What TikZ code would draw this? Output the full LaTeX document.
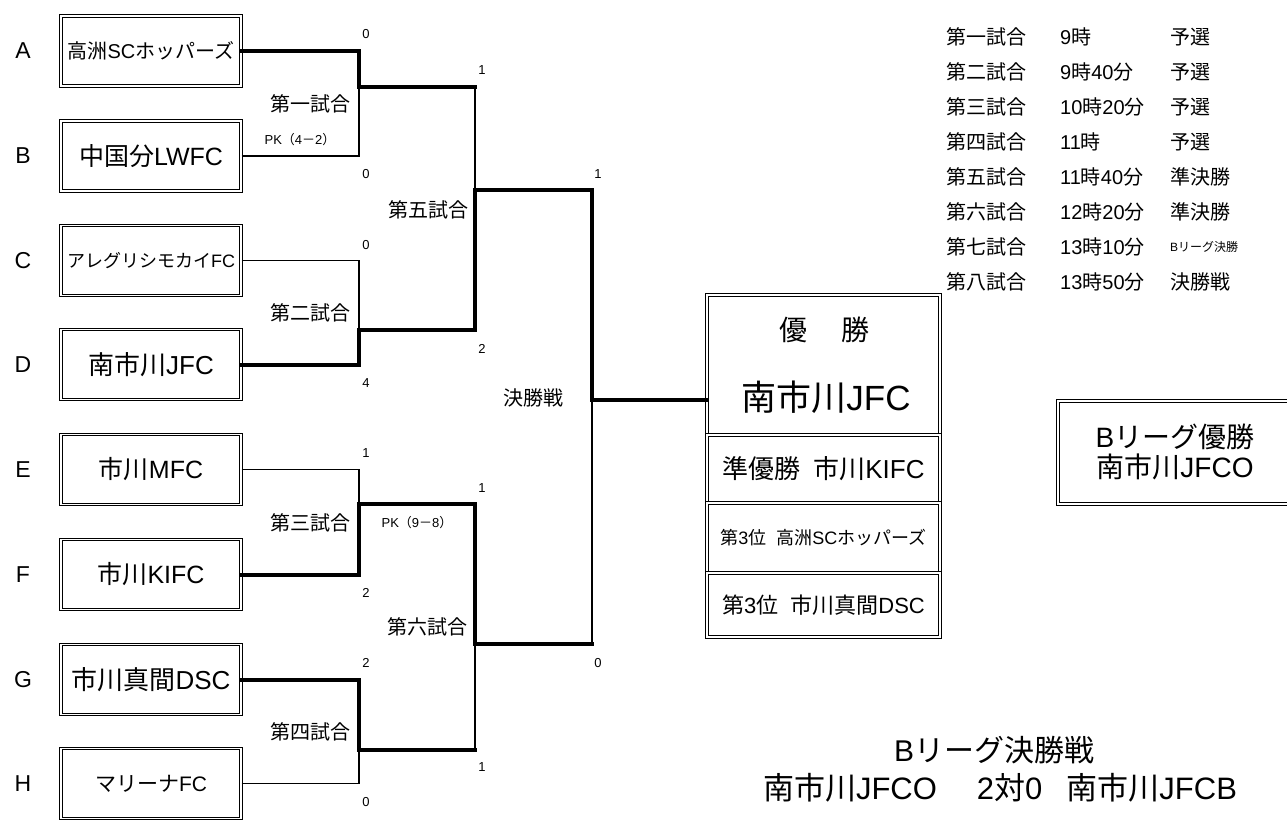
\documentclass[tikz,border=0pt]{standalone}
\usepackage{fontspec}
\setmainfont{Liberation Sans}
\newfontfamily\cjkf{Noto Sans CJK JP}
\XeTeXinterchartokenstate=1
\newXeTeXintercharclass\CJKcls
\newcount\cjkc
\def\cjkrange#1#2{\cjkc=#1\relax
  \loop\XeTeXcharclass\cjkc=\CJKcls\relax
  \ifnum\cjkc<#2\relax\advance\cjkc by 1\relax\repeat}
\cjkrange{"3000}{"30FF}
\cjkrange{"4E00}{"9FFF}
\cjkrange{"FF00}{"FFEF}
\XeTeXinterchartoks 0 \CJKcls = {\cjkf}
\XeTeXinterchartoks 4095 \CJKcls = {\cjkf}
\XeTeXinterchartoks \CJKcls 0 = {\rmfamily}
\XeTeXinterchartoks \CJKcls 4095 = {\rmfamily}
\newcommand\setfs[1]{\fontsize{#1pt}{#1pt}\selectfont}
\begin{document}
\begin{tikzpicture}[x=1pt,y=-1pt,
  dbox/.style={draw, double, double distance=1.6pt, line width=1.1pt, rectangle, inner sep=0pt, align=center},
  team/.style={dbox, minimum width=180pt, minimum height=70pt},
  win/.style={line width=4pt, line cap=rect, line join=miter},
  lose/.style={line width=1.3pt},
  sc/.style={font=\setfs{13}},
  mt/.style={font=\setfs{20}},
  lt/.style={font=\setfs{23}},
  sch/.style={font=\setfs{20}, anchor=west, inner sep=0pt},
]
\useasboundingbox (0,0) rectangle (1287,821);
% team boxes
\node[team, font=\setfs{20}] (A) at (151,51) {高洲SCホッパーズ};
\node[team, font=\setfs{25}] (B) at (151,156) {中国分LWFC};
\node[team, font=\setfs{18}] (C) at (151,260.5) {アレグリシモカイFC};
\node[team, font=\setfs{26}] (D) at (151,364.5) {南市川JFC};
\node[team, font=\setfs{25}] (E) at (151,469.5) {市川MFC};
\node[team, font=\setfs{25}] (F) at (151,574.5) {市川KIFC};
\node[team, font=\setfs{26}] (G) at (151,679.5) {市川真間DSC};
\node[team, font=\setfs{21}] (H) at (151,783.5) {マリーナFC};
% letters
\node[lt] (lA) at (23,51) {A};
\node[lt] (lB) at (23,156) {B};
\node[lt] (lC) at (23,260.5) {C};
\node[lt] (lD) at (23,364.5) {D};
\node[lt] (lE) at (23,469.5) {E};
\node[lt] (lF) at (23,574.5) {F};
\node[lt] (lG) at (23,679.5) {G};
\node[lt] (lH) at (23,783.5) {H};
% result boxes
\node[dbox, minimum width=233pt, minimum height=140pt] (W1) at (823.5,365) {};
\node[dbox, minimum width=233pt, minimum height=68pt, font=\setfs{26}] (W2) at (823.5,469) {準優勝\hspace{13pt}市川KIFC};
\node[dbox, minimum width=233pt, minimum height=70pt, font=\setfs{18}] (W3) at (823.5,538) {第3位\hspace{10pt}高洲SCホッパーズ};
\node[dbox, minimum width=233pt, minimum height=64pt, font=\setfs{22}] (W4) at (823.5,605) {第3位\hspace{12pt}市川真間DSC};
\node[font=\setfs{28}] (wt1) at (824,330) {優\hspace{34pt}勝};
\node[font=\setfs{35}] (wt2) at (826,397) {南市川JFC};
% B league box
\node[dbox, minimum width=244pt, minimum height=103pt] (BL) at (1180,452.5) {};
\node[font=\setfs{28}, align=center, inner sep=0pt] (BLt) at (1175,452) {Bリーグ優勝\\[2pt]南市川JFCO};
% junction coordinates
\coordinate (m1) at (359,87);
\coordinate (m1o) at (475,87);
\coordinate (m2) at (359,330);
\coordinate (m2o) at (475,330);
\coordinate (m3) at (359,504);
\coordinate (m3o) at (475,504);
\coordinate (m4) at (359,750);
\coordinate (m4o) at (475,750);
\coordinate (m5) at (475,190);
\coordinate (m5o) at (592,190);
\coordinate (m6) at (475,644);
\coordinate (m6o) at (592,644);
\coordinate (fin) at (592,400);
% losing lines
\draw[lose] (B.east) -| (m1);
\draw[lose] (C.east) -| (m2);
\draw[lose] (E.east) -| (m3);
\draw[lose] (H.east) -| (m4);
\draw[lose] (m1o) -- (m5);
\draw[lose] (m4o) -- (m6);
\draw[lose] (m6o) -- (fin);
% winning lines
\draw[win] (A.east) -| (m1) -- (m1o);
\draw[win] (D.east) -| (m2) -- (m2o) -- (m5) -- (m5o) -- (fin) -- (fin -| W1.west);
\draw[win] (F.east) -| (m3) -- (m3o) -- (m6) -- (m6o);
\draw[win] (G.east) -| (m4) -- (m4o);
% scores
\node[sc] (s1) at (366,34) {0};
\node[sc] (s2) at (482,70) {1};
\node[sc] (s3) at (366,174) {0};
\node[sc] (s4) at (366,245) {0};
\node[sc] (s5) at (366,383) {4};
\node[sc] (s6) at (482,349) {2};
\node[sc] (s7) at (598,174) {1};
\node[sc] (s8) at (366,453) {1};
\node[sc] (s9) at (482,488) {1};
\node[sc] (s10) at (366,593) {2};
\node[sc] (s11) at (366,663) {2};
\node[sc] (s12) at (598,663) {0};
\node[sc] (s13) at (482,767) {1};
\node[sc] (s14) at (366,802) {0};
% match labels
\node[mt] (g1) at (310,104) {第一試合};
\node[font=\setfs{13}] (pk1) at (300,140) {PK（4－2）};
\node[mt] (g5) at (428,210) {第五試合};
\node[mt] (g2) at (310,313) {第二試合};
\node[mt] (gf) at (533,398) {決勝戦};
\node[mt] (g3) at (310,523) {第三試合};
\node[font=\setfs{13}] (pk2) at (417,523) {PK（9－8）};
\node[mt] (g6) at (427,627) {第六試合};
\node[mt] (g4) at (310,732) {第四試合};
% schedule
\foreach \i/\a/\b/\c in {0/第一試合/9時/予選, 1/第二試合/9時40分/予選, 2/第三試合/10時20分/予選, 3/第四試合/11時/予選, 4/第五試合/11時40分/準決勝, 5/第六試合/12時20分/準決勝, 7/第八試合/13時50分/決勝戦}{
  \node[sch] (ta\i) at (946,37+35*\i) {\a};
  \node[sch] (tb\i) at (1060,37+35*\i) {\b};
  \node[sch] (tc\i) at (1170,37+35*\i) {\c};
}
\node[sch] (ta6) at (946,247) {第七試合};
\node[sch] (tb6) at (1060,247) {13時10分};
\node[sch, font=\setfs{12}] (tc6) at (1170,247) {Bリーグ決勝};
% bottom text
\node[font=\setfs{30}] (bt1) at (994,750) {Bリーグ決勝戦};
\node[font=\setfs{31}] (bt2) at (1000,788) {南市川JFCO\hspace{40pt}2対0\hspace{24pt}南市川JFCB};
\end{tikzpicture}
\end{document}
